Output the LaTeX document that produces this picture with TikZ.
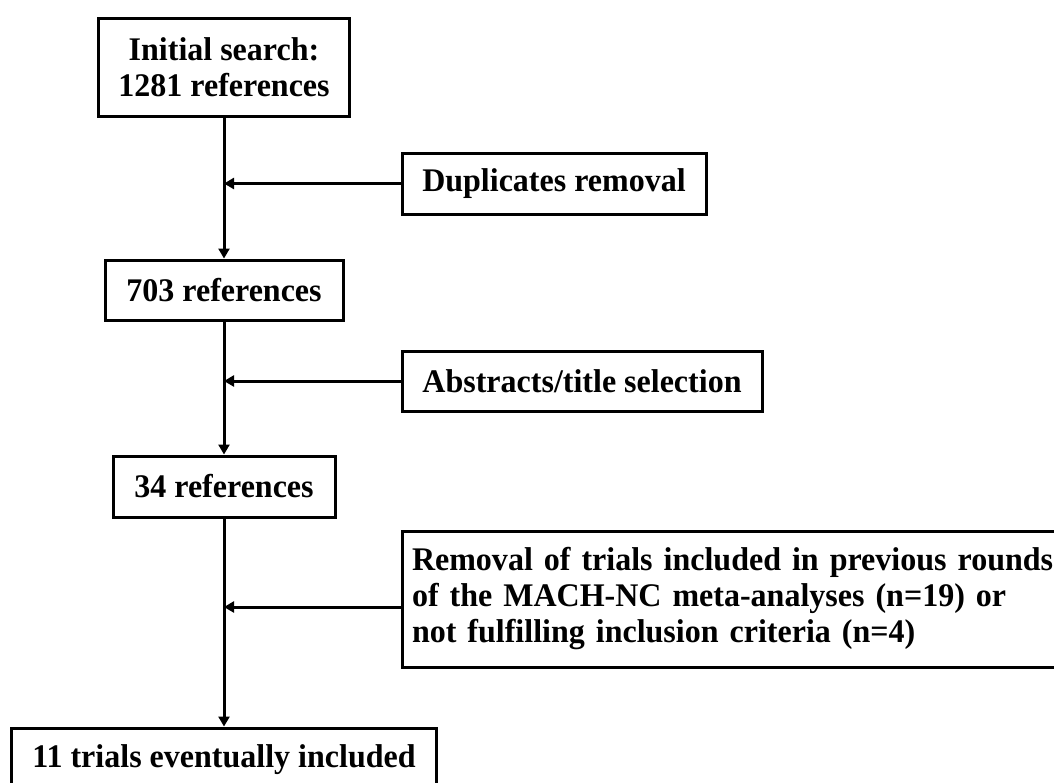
\documentclass[tikz,border=0pt]{standalone}
\usepackage{fontspec}
\setmainfont[FakeStretch=0.97]{Liberation Serif}
\usetikzlibrary{arrows.meta}

\tikzset{
    box/.style={draw, line width=3pt, inner sep=0pt, align=center,
        font=\fontsize{33}{36}\selectfont\bfseries},
    flow/.style={line width=3pt, -{Triangle[length=10pt,width=11pt]}}
}

\begin{document}
\begin{tikzpicture}[x=1pt, y=-1pt]
    % Fix the frame of the picture
    \useasboundingbox (0,0) rectangle (1054,782);
    \clip (0,0) rectangle (1054,782);

    % Draw the main column of boxes
    \node[box, minimum width=251pt, minimum height=98pt] (init) at (224,67) {Initial search:\\1281 references};
    \node[box, minimum width=238pt, minimum height=60pt] (r703) at (224,290) {703 references};
    \node[box, minimum width=222pt, minimum height=61pt] (r34) at (224,486.5) {34 references};
    \node[box, minimum width=425pt, minimum height=64pt] (final) at (224,760) {11 trials eventually included};

    % Draw the removal boxes on the right
    \node[box, minimum width=304pt, minimum height=61pt] (dup) at (554,183.5) {Duplicates removal};
    \node[box, minimum width=360pt, minimum height=60pt] (abs) at (582,381) {Abstracts/title selection};
    \node[box, minimum width=668pt, minimum height=136pt, text width=648pt, align=left] (rem) at (736,599)
        {Removal of trials included in previous rounds\\of the MACH-NC meta-analyses (n=19) or\\not fulfilling inclusion criteria (n=4)};

    % Points where the side arrows meet the main line
    \coordinate (j1) at (init.south |- dup.west);
    \coordinate (j2) at (init.south |- abs.west);
    \coordinate (remin) at ([yshift=-8pt]rem.west);
    \coordinate (j3) at (init.south |- remin);

    % Draw the arrows
    \draw[flow] (init) -- (r703);
    \draw[flow] (r703) -- (r34);
    \draw[flow] (r34) -- (final);
    \draw[flow] (dup) -- (j1);
    \draw[flow] (abs) -- (j2);
    \draw[flow] (remin) -- (j3);
\end{tikzpicture}
\end{document}
